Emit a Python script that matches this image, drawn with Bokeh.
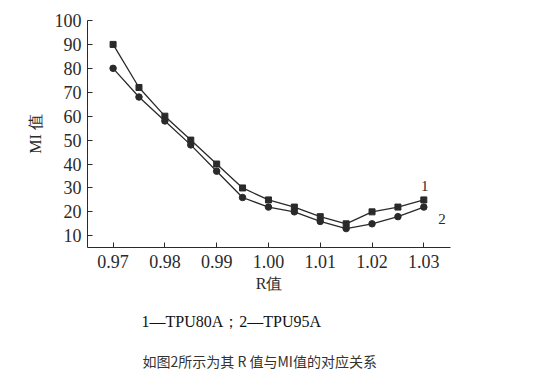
from bokeh.plotting import figure
from bokeh.models import Range1d, FixedTicker, Label, Title
from bokeh.embed import file_html
from bokeh.resources import INLINE

r_values = [0.97, 0.975, 0.98, 0.985, 0.99, 0.995, 1.00, 1.005, 1.01, 1.015, 1.02, 1.025, 1.03]
mi_tpu80a = [90, 72, 60, 50, 40, 30, 25, 22, 18, 15, 20, 22, 25]
mi_tpu95a = [80, 68, 58, 48, 37, 26, 22, 20, 16, 13, 15, 18, 22]
x_ticks = [0.97, 0.98, 0.99, 1.00, 1.01, 1.02, 1.03]
y_ticks = [10, 20, 30, 40, 50, 60, 70, 80, 90, 100]

SERIF = "Liberation Serif"
INK = "#2a2a2a"

p = figure(width=540, height=376, output_backend="svg", toolbar_location=None,
           x_range=Range1d(0.96506, 1.03515), y_range=Range1d(5.1, 100),
           min_border_left=87, min_border_right=90, min_border_top=20, min_border_bottom=129)
p.outline_line_color = None
p.grid.visible = False

for ax in (p.xaxis[0], p.yaxis[0]):
    ax.axis_line_color = INK
    ax.major_tick_line_color = INK
    ax.major_tick_in = 5
    ax.major_tick_out = 0
    ax.minor_tick_line_color = None
    ax.major_label_text_font = SERIF
    ax.major_label_text_font_size = "18px"
    ax.major_label_text_color = INK
    ax.axis_label_text_font = SERIF
    ax.axis_label_text_font_size = "16px"
    ax.axis_label_text_font_style = "normal"
    ax.axis_label_text_color = INK

p.xaxis[0].ticker = FixedTicker(ticks=x_ticks)
p.xaxis[0].major_label_overrides = {t: f"{t:.2f}" for t in x_ticks}
p.xaxis[0].major_label_standoff = 7
p.xaxis[0].axis_label = "R值"
p.xaxis[0].axis_label_standoff = 4
p.yaxis[0].ticker = FixedTicker(ticks=y_ticks)
p.yaxis[0].major_label_standoff = 6
p.yaxis[0].axis_label = "MI 值"
p.yaxis[0].axis_label_standoff = 8

p.line(r_values, mi_tpu80a, line_color=INK, line_width=1.3)
p.scatter(r_values, mi_tpu80a, marker="square", size=6, color=INK)
p.line(r_values, mi_tpu95a, line_color=INK, line_width=1.3)
p.scatter(r_values, mi_tpu95a, marker="circle", size=6.5, color=INK)

p.add_layout(Label(x=1.0302, y=31, text="1", text_font=SERIF, text_font_size="15px",
                   text_color=INK, text_align="center", text_baseline="middle"))
p.add_layout(Label(x=1.0335, y=17, text="2", text_font=SERIF, text_font_size="15px",
                   text_color=INK, text_align="center", text_baseline="middle"))

p.add_layout(Title(text="1—TPU80A；2—TPU95A", text_font=SERIF, text_font_size="16px",
                   text_font_style="normal", text_color="#111111", align="left",
                   offset=54, standoff=33), "below")
p.add_layout(Title(text="如图2所示为其 R 值与MI值的对应关系", text_font="Noto Sans CJK SC",
                   text_font_size="14px", text_font_style="normal", text_color="#333333",
                   align="left", offset=55, standoff=4), "below")

open("out.html", "w").write(file_html(p, INLINE))
